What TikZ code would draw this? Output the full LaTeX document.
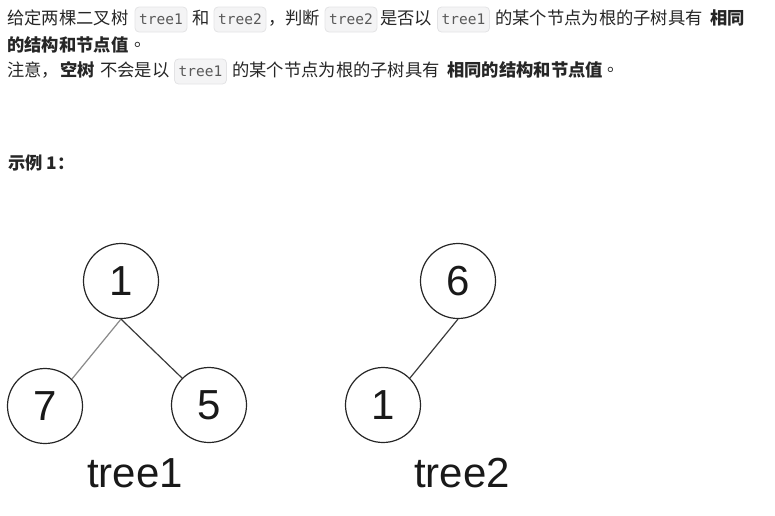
\documentclass[tikz,border=0pt]{standalone}
\usepackage{fontspec}
\setmainfont{Liberation Sans}
\newfontfamily\cjk{Noto Sans CJK SC}
\newfontfamily\codefont{DejaVu Sans Mono}
\definecolor{txt}{HTML}{262626}
\definecolor{codefill}{HTML}{F4F4F5}
\definecolor{codeline}{HTML}{E3E3E5}
\definecolor{codetxt}{HTML}{595959}
\definecolor{edgeA}{HTML}{8A8A8A}
\definecolor{edgeB}{HTML}{3A3A3A}
\tikzset{
  para/.style={anchor=west, inner sep=0pt, text=txt, font=\cjk\fontsize{17.3}{20}\selectfont},
  parab/.style={para, font=\cjk\bfseries\fontsize{17.3}{20}\selectfont},
  codebox/.style={draw=codeline, fill=codefill, rounded corners=4pt, line width=0.8pt,
    minimum width=52pt, minimum height=25pt, inner sep=0pt, text=codetxt,
    font=\codefont\fontsize{14.5}{16}\selectfont},
  treenode/.style={circle, draw=black!85, line width=1.2pt, minimum size=75pt, inner sep=0pt,
    font=\fontsize{42}{48}\selectfont, text=black!90},
  treelabel/.style={anchor=base, inner sep=0pt, font=\fontsize{42}{48}\selectfont, text=black!90},
  edgelight/.style={draw=edgeA, line width=1.2pt},
  edgedark/.style={draw=edgeB, line width=1.2pt}
}
\begin{document}
\begin{tikzpicture}[x=1pt, y=-1pt]
\useasboundingbox (0,0) rectangle (775,515);
% line 1
\node[para] (t1a) at (7,18) {给定两棵二叉树};
\node[codebox] (c1) at (161,19.5) {tree1};
\node[para] (t1b) at (192,18) {和};
\node[codebox] (c2) at (240,19.5) {tree2};
\node[para] (t1c) at (268,18) {，判断};
\node[codebox] (c3) at (351,19.5) {tree2};
\node[para] (t1d) at (380,18) {是否以};
\node[codebox] (c4) at (463.5,19.5) {tree1};
\node[para] (t1e) at (495,18) {的某个节点为根的子树具有};
\node[parab] (t1f) at (710,18) {相同};
% line 2
\node[parab] (t2a) at (7,45) {的结构和节点值};
\node[para] (t2b) at (134,45) {。};
% line 3
\node[para] (t3a) at (7,70) {注意，};
\node[parab] (t3b) at (60,70) {空树};
\node[para] (t3c) at (100,70) {不会是以};
\node[codebox] (c5) at (200.5,71.5) {tree1};
\node[para] (t3d) at (232,70) {的某个节点为根的子树具有};
\node[parab] (t3e) at (447,70) {相同的结构和节点值};
\node[para] (t3f) at (607,70) {。};
% example
\node[parab] (ex) at (8,163) {示例 1：};
% tree1
\node[treenode] (r1) at (121,281) {1};
\node[treenode] (n7) at (45,406) {7};
\node[treenode] (n5) at (209,405) {5};
\node[treelabel] (l1) at (135,487) {tree1};
\draw[edgelight] (r1.south) -- (n7.north east);
\draw[edgedark] (r1.south) -- (n5.north west);
% tree2
\node[treenode] (r6) at (458,281) {6};
\node[treenode] (m1) at (383,405) {1};
\node[treelabel] (l2) at (462,487) {tree2};
\draw[edgedark] (r6.south) -- (m1.north east);
\end{tikzpicture}
\end{document}
